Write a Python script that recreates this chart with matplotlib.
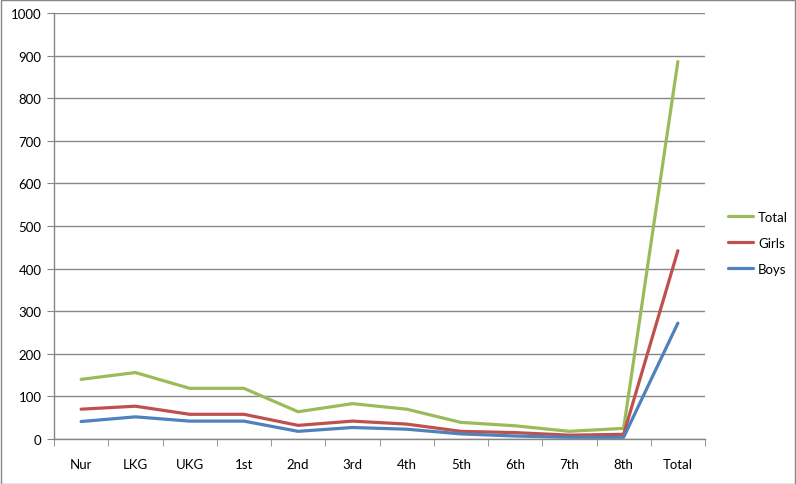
import matplotlib
matplotlib.use("Agg")
import matplotlib.pyplot as plt
import numpy as np

categories = ["Nur", "LKG", "UKG", "1st", "2nd", "3rd", "4th", "5th", "6th", "7th", "8th", "Total"]
total = [140, 156, 119, 119, 64, 83, 70, 39, 31, 18, 25, 886]
girls = [70, 77, 58, 58, 32, 42, 35, 18, 15, 9, 11, 442]
boys = [41, 52, 42, 42, 18, 27, 23, 12, 7, 4, 4, 272]
y_ticks = list(range(0, 1001, 100))

plt.rcParams['font.family'] = ['Lato', 'DejaVu Sans']

fig = plt.figure(figsize=(7.96, 4.85), dpi=100)
ax = fig.add_axes([54/796, 45/485, (705-54)/796, (440-14)/485])

x = np.arange(len(categories))
ax.plot(x, total, color="#9BBB59", lw=2.3, label="Total", solid_capstyle="round")
ax.plot(x, girls, color="#C0504D", lw=2.3, label="Girls", solid_capstyle="round")
ax.plot(x, boys, color="#4F81BD", lw=2.3, label="Boys", solid_capstyle="round")

ax.set_xlim(-0.5, len(categories) - 0.5)
ax.set_ylim(0, 1000)
ax.set_yticks(y_ticks)
ax.set_yticklabels([str(v) for v in y_ticks], fontsize=9.5)
ax.grid(axis="y", color="#868686", lw=1)
ax.set_axisbelow(True)

ax.set_xticks(x)
ax.set_xticklabels(categories, fontsize=9.5)
ax.tick_params(axis="x", which="major", length=0, pad=14)
ax.set_xticks(np.arange(-0.5, len(categories), 1), minor=True)
ax.tick_params(axis="x", which="minor", length=5, color="#868686")
ax.tick_params(axis="y", length=5, color="#868686", pad=4)

for s in ["top", "right"]:
    ax.spines[s].set_visible(False)
for s in ["left", "bottom"]:
    ax.spines[s].set_color("#868686")
    ax.spines[s].set_linewidth(1)

leg = fig.legend(loc="upper left", bbox_to_anchor=(716/796, 1 - 200/485), frameon=False,
                 fontsize=9.5, handlelength=1.9, handletextpad=0.4, labelspacing=1.05)

border = plt.Rectangle((0.5/796, 0.5/485), 1 - 1.5/796, 1 - 1.5/485, transform=fig.transFigure,
                       fill=False, edgecolor="#868686", lw=1)
fig.add_artist(border)

fig.savefig("out.png", dpi=100)
